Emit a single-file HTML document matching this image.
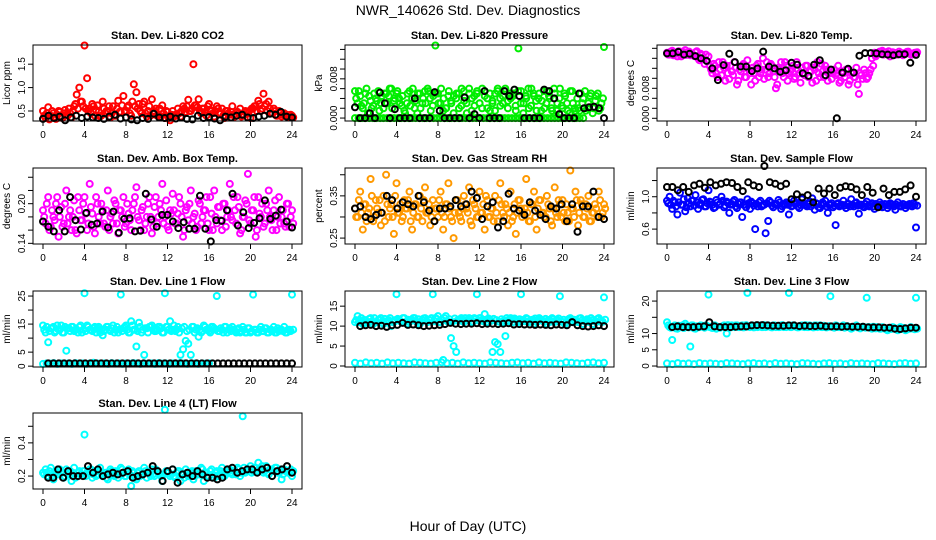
<!DOCTYPE html>
<html><head><meta charset="utf-8">
<style>
html,body{margin:0;padding:0;background:#fff;}
svg{display:block;font-family:"Liberation Sans",sans-serif;}
</style></head>
<body>
<svg id="chart" width="936" height="540" viewBox="0 0 936 540">
<text x="468" y="15" text-anchor="middle" font-size="14">NWR_140626  Std. Dev. Diagnostics</text>
<text x="468" y="531" text-anchor="middle" font-size="14">Hour of Day (UTC)</text>
</svg>
<script>
const xTicks=[0,4,8,12,16,20,24];
const co2Red=[.5,.35,.58,.4,.45,.33,.5,.38,.45,.42,.55,.36,.6,.85,1.0,.7,1.9,1.2,.55,.65,.4,.62,.38,.7,.45,.5,.36,.6,.4,.72,.48,.82,.5,.62,.4,1.07,.9,.65,.45,.7,.38,.6,.75,.5,.4,.55,.62,.35,.48,.3,.5,.42,.55,.38,.6,.48,.74,.5,1.5,.62,.75,.45,.55,.4,.65,.5,.38,.6,.45,.55,.35,.5,.42,.6,.38,.48,.55,.4,.5,.45,.35,.55,.6,.72,.5,.87,.65,.7,.45,.55,.4,.5,.38,.45,.42,.38,.4];
const co2Red2=[.4,.45,.32,.5,.38,.42,.48,.35,.52,.4,.45,.5,.65,.55,.7,.6,.55,.5,.45,.6,.52,.48,.4,.55,.5,.6,.45,.4,.55,.48,.62,.5,.58,.45,.7,.6,.55,.5,.65,.45,.5,.4,.48,.55,.42,.38,.45,.5,.35,.42,.38,.4,.45,.5,.55,.6,.5,.55,.62,.58,.5,.55,.48,.6,.52,.45,.5,.55,.45,.4,.5,.45,.48,.42,.4,.45,.38,.42,.48,.5,.55,.6,.5,.65,.55,.6,.5,.55,.45,.5,.4,.45,.42,.4,.38,.42,.36];
const co2Black=[.33,.4,.35,.38,.3,.36,.4,.35,.38,.36,.35,.33,.38,.42,.34,.36,.32,.3,.35,.33,.44,.36,.35,.38,.34,.36,.33,.32,.4,.35,.37,.34,.3,.38,.36,.4,.42,.36,.35,.38,.4,.44,.42,.48,.38,.36];
const presGreen=[5.5,3,4.5,2,5,1,3.5,2.5,4,5.5,3,2,5,4.5,6,3.5,5,4,2.5,1.5,3,5.5,4,2,1,5,3,5.5,6,4,2.5,14.8,5,3,1.5,2,4.5,3.5,1,4,5,2.5,5.5,3,6,1.5,4.5,5,3,2,5.5,4,1.5,3,5,6,2.5,4.5,5.5,3.5,4,5,1.5,14.2,5.5,3,4,2,6,4.5,1.5,5,3.5,2,5.5,4,1.5,5,3,6,2,4.5,1.5,5.5,3,1.5,2,5,4,1.5,3,5,2,4.5,1.5,3,14.5];
const presGreen2=[4,5.5,2.5,3,6,4.5,2,5,3.5,1.5,4.5,5,3,6,2,4,5.5,3,4.5,1,5,2.5,6,3.5,5,2,4,3,5.5,1.5,4.5,5,3,6,4,2,5.5,3,4.5,5,2,6,3.5,1,5,4,2.5,5.5,3,6,4.5,2,5,3.5,1.5,5.5,4,3,6,2,5,4.5,2.5,5.5,3,1,4.5,6,2.5,5,3.5,4,1.5,5.5,3,4.5,2,6,1.5,4,2.5,5,3,1,5.5,2,4,1.5,3,5.5,2,4.5,1,3.5,5,2,4];
const presGreenZero=[0,0,0,0,0,0,0,0,0,0,0,0,0,0,0,0,0,0,0,0,0,0,0,0,0,0,0,0,0,0,0,0,0,0,0,0,0,0,0,0,0,0,0,0,0,0,0,0,0,0,0,0,0,0,0,0,0,0,0,0,0,0,0,0,0];
const presBlack=[2.2,0,0,1,0,5.2,3,0,1.8,0,0,0,4,0,0,0,5.3,1.5,0,0,0,0,4.2,0,0.8,0,5.5,0,0,0,5.5,4.5,5.8,4.5,0,0,0,0,5.8,5.5,4,0.8,0,0,0,5,2,2.2,2.3,2,0];
const tempMag=[17.5,17,18,17.5,16.5,17.8,17,18.2,17.5,16.8,17,17.6,16,17.2,15.8,17,16.5,13,14.5,12,15,11.5,13.5,14,10.5,12.5,15,9,13,14,11,15.5,12,13.5,10,14.5,12,16,13,11,14.5,12.5,8,13.5,15,11,14,12,13,10.5,15,12,13.5,11.5,14,12.5,9.5,13,15,11,12.5,14,10,13,12,11.5,14,10,12,13,9,12,11,13.5,6.5,11.5,13,10.5,12,16,17.5,17,17.8,18,17.5,17.2,16.5,17.6,17.4,17,17.3,16.8,17.5,17.8,17,17.2,17.5];
const tempMag2=[17,17.8,16.8,17.3,17.9,16.5,17.6,16.9,17.8,17.2,16.6,17.9,15.5,16.8,14.5,15.2,14,12,14,11,13,15,10,12,14,11.5,13.5,10,12.5,14.5,11,13,9,12,14,11,13,10.5,15,12,14,11,9,13,12,15,10,12.5,14,11,13,9.5,12,14,11,12.5,13.5,10,12,14.5,11,13,12,10.5,13,12,9.5,12.5,11,13,10,12,11,9,12,10.5,12,11,13,14,16.5,17.3,17.8,17,17.6,17.9,17.2,17.5,17,17.8,17.4,17.1,17.7,17.3,17,17.5,17.6];
const tempBlack=[17.3,17.3,17.7,17,17.2,16.6,16,15.3,13.3,10.2,14.2,17.2,15,13.8,13.8,12.6,13.3,17.8,13.8,13.3,12.4,12.8,14.8,14.3,12,11.3,14.3,15.5,11.5,13,0,12.2,13.2,12.2,16.7,17.4,17.4,17.3,17.1,17,16.8,17.1,17.1,14.8,16.9];
const boxMag=[19,17,21,16.5,18,20,15,19.5,17,22,18,16,20.5,15.5,19,17.5,21,16,23,18.5,15.5,20,17,19,16.5,22,18,17,20,15.5,19,21,17,18.5,16,20,22.5,17.5,19,16,18,21,15.5,19.5,17,20,23,18,16.5,19,21.5,17,18.5,20,15,19,17.5,22,18,16,20.5,17,19,21,16,18.5,22,17,19.5,16,20,18,23,17.5,19,21,15.5,18,20.5,24.5,17,19,15,21,18,16.5,20,22,17.5,19,16,21,18,17,20,16.5,19];
const boxMag2=[18,20,16,19,17.5,21,18,16.5,20,17,19,18,16,21,17.5,20,18.5,17,19.5,16.5,21,18,20,17,19,16,18.5,20.5,17,19,18,16.5,20,17.5,19,21,18,16,19.5,17,20,18,16.5,21,18,19,17,20.5,16,18.5,19,17,21,18,16,19.5,20,17,18.5,16.5,20,18,19,17,21,16,18,19.5,17.5,20,16.5,19,18,21,17,19.5,16,18,20,17.5,19,21,16,18.5,20,17,19,18,16,20.5,18,17,19,16.5,20,18,17];
const boxBlack=[17.3,16.5,15.8,19,15.8,21,17.5,16.1,18.6,16.8,17,18.8,16.4,18.8,15.6,17.7,17.8,15.8,15.9,21.5,17.6,16.5,18.3,18.3,17.3,16.3,17.2,16.2,16.2,21.2,16.2,14.3,17.5,17.4,19,21.5,16.7,18.7,16.3,17.1,17.8,20.5,17.7,18.2,19.1,17.3,16.4];
const rhOrange=[32,30,36,27,33,31,39,29,34,31,28,35,40,30,33,26,38,31,29,34,32,36,27,33,30,35,29,37,31,28,34,32,30,36,27,33,38,30,25,34,31,29,35,32,37,28,33,30,36,31,27,34,30,32,35,29,38,31,33,28,36,30,26,34,32,31,39,29,33,36,27,34,31,30,35,32,28,37,30,33,34,29,31,41,32,36,28,34,30,33,35,29,31,32,36,30,33];
const rhOrange2=[30,34,31,33,29,32,35,30,32,34,31,29,33,32,30,35,31,33,30,32,34,29,31,33,30,32,34,31,33,30,29,32,34,31,30,33,32,29,31,34,30,32,33,31,29,34,32,30,31,33,35,30,32,29,31,34,33,30,32,31,29,33,31,34,30,32,31,29,33,30,32,34,31,30,33,29,32,31,34,30,31,33,29,32,30,34,31,33,30,32,29,31,33,30,34,31,32];
const rhBlack=[32,32.5,30,29.5,30.5,31,35,34,32,33.5,33,32.5,35,33.5,31.5,29,32,32,32.5,34,32.5,33,36,34.5,29.5,32.5,33.5,27.5,29,35.5,32,31.5,30.5,33.5,31.5,30.5,29.5,32.5,32,33,29,33,26.5,32.5,32.5,36,30,29.5];
const flowBlue=[.95,1.0,.85,.93,.78,1.05,.9,.82,.98,.88,.95,1.02,.85,.92,.97,.88,1.08,.93,.86,.96,.9,1.0,.87,.94,.8,.91,.96,.86,.93,.75,.9,.97,.85,.92,.6,.88,.95,.9,.55,.7,.93,.87,.91,.96,.85,.9,.93,.78,.88,.95,.92,.86,.97,.9,.88,.94,.98,.84,.91,.86,.93,.95,.8,.9,.87,.65,.92,.89,.95,.86,.91,.97,.88,.93,.79,.9,.87,.94,.88,.92,.85,.9,.93,.87,.91,.86,.92,.9,.84,.93,.88,.91,.86,.9,.89,.92,.62];
const flowBlue2=[.92,.9,.95,.88,.93,.9,.97,.87,.92,.95,.89,.93,.9,.96,.88,.92,.94,.9,.87,.93,.91,.95,.89,.92,.9,.94,.88,.91,.93,.9,.87,.92,.94,.89,.91,.93,.88,.9,.92,.95,.89,.91,.9,.93,.88,.91,.9,.92,.89,.91,.88,.9,.92,.89,.91,.88,.9,.92,.87,.9,.91,.88,.9,.92,.89,.91,.88,.9,.89,.91,.88,.9,.92,.89,.9,.88,.91,.89,.9,.88,.91,.89,.9,.88,.9,.89,.91,.88,.9,.89,.88,.9,.89,.91,.88,.9,.89];
const flowBlack=[1.12,1.12,1.08,1.12,1.06,1.14,1.16,1.11,1.18,1.14,1.16,1.18,1.17,1.12,1.07,1.18,1.14,1.12,1.38,1.18,1.16,1.13,1.16,.97,1.03,.99,1.02,.93,1.1,1.04,1.1,1.02,1.11,1.13,1.12,1.09,1.02,1.12,1.05,.87,1.1,1.02,1.06,1.06,1.09,1.14,1.0];
const line1Cyan=[14.5,12,8.5,13.5,14,12.5,13,14.5,12,5.5,13.5,14,12.5,13,14,12,26,14.5,13,12.5,14,13.5,12,11,13,14,12.5,14.5,13,12,25.5,13.5,14.5,12,16,13,7,15.5,12,4,13.5,14,14.5,12.5,13,14,12,26,14,16,13,12.5,14,4,6,9,8,4,14,13,10.5,12,14.5,13,12.5,14,13.5,25,12.5,13,14,12,13.5,14,12.5,13,12,14,12,13.5,12,25.5,13,12,14,12.5,13.5,12,13,14,12,12.5,13,14,12,13,25.5];
const line1Cyan2=[13,14,12.5,13.5,12,14.5,13,12,14,13.5,12.5,14,13,12,14.5,13,12.5,14,13,13.5,12,14,13,12.5,14,13,13.5,12,14,13,12.5,14,13,12,14.5,13,12.5,14,13,13.5,12,14,13,12.5,14,13.5,12,14,13,12.5,14.5,13,12,13.5,14,12.5,13,14,12,13.5,13,12.5,14,13,12,14,13,12.5,13.5,12,14,13,12.5,13,12,13.5,12.5,13,12,13.5,12.5,13,12,13,12.5,13.5,12,13,12.5,12,13.5,13,12.5,12,13,12.5,13];
const line1CyanLow=[.8,1,.9,1.1,.8,1,.9,1,.8,1.1,.9,1,.8,1,1.2,1,.9,1,.8,1.1,.9,1,.8,1,.9,1.1,1,.8,1,.9,1,.8,1.1,.9,1,.8,1,.9,1.1,1,.8,.9,1,.8,1,.9,1];
const line1Black=[1,1,1,1,1,1,1,1,1,1,1,1,1,1,1,1,1,1,1,1,1,1,1,1,1,1,1,1,1,1,1,1,1,1,1,1,1,1,1,1,1,1,1,1,1,1,1];
const line2Cyan=[11,12.5,11,10.5,11.5,11,12,10.5,11,11.5,12,10.5,11,11.5,10,11,18,11.5,11,12,10.5,11,11.5,12,11,10.5,11.5,12,11,11.5,18,12,12.5,11,1.5,12.5,11,7,5,3.5,11.5,12,11,11.5,12,11,12,18,12,11.5,13,11,11.5,3.5,6,5.5,3.5,11,7.5,11.5,12,11,11.5,11,18,11.5,12,11,11.5,10.5,11,12,11.5,11,10.5,11.5,12,11,11.5,17.5,11,10.5,11.5,12,11,11.5,11,12,10.5,11,11.5,12,10.5,11,12,11,17.2];
const line2Cyan2=[11.5,11,12,11.5,10.8,11.8,11.2,12,11,11.6,10.9,11.8,11.3,12,11,11.5,11.8,11.2,12,11,11.6,11.4,12,11.2,11.7,11,11.9,11.3,11.6,12,11.2,11.8,11,11.6,12,11.3,11.7,11,11.9,11.4,11.6,11.2,12,11.5,11.8,11.1,11.7,11.4,12,11.2,11.6,11.9,11.3,11.8,11.5,11.1,11.7,11.4,12,11.2,11.6,11.9,11.3,11.7,11.5,11.2,11.8,11.4,11.6,11.9,11.2,11.7,11.3,11.8,11.5,11.1,11.7,11.4,11.9,11.2,11.6,11,11.8,11.3,11.6,11.1,11.9,11.4,11.2,11.7,11,11.5,11.2,11.8,11.4,11.1,11.6];
const line2CyanLow=[.8,.6,.9,.7,.8,.6,.9,.7,.8,.7,.6,.9,.8,.7,.6,.8,.9,.7,.8,.6,.9,.7,.8,.7,.6,.9,.8,.7,.6,.8,.9,.7,.8,.6,.9,.7,.8,.7,.6,.9,.8,.7,.6,.8,.9,.7,.8];
const line2Black=[10,10.2,10.3,10,10.1,9.8,10.2,10.3,10.8,10.3,10.4,10.2,10,10.1,10.2,10.3,10.5,10.8,10.6,10.5,10.6,10.6,10.7,10.5,10.6,10.6,10.5,10.6,10.7,10.4,10.5,10.4,10.4,10.3,10.4,10.3,10.2,10.4,10.3,10.2,11,10.2,10,9.9,10,10.2,10];
const line3Cyan=[13.5,12,8,12.5,11.5,12,12.5,13,12,6,12.5,11.5,12,12.5,12,12.5,22,12,12.5,11.5,12,12,12.5,10,12,12.5,12,12.5,12,12.5,12,22.5,12,12.5,12,12,12.5,12,12,12.5,12,12.5,12,12,12.5,12,12,22.5,12,12.5,12,12,12.5,12,12,12.5,12,12.5,12,12.5,12,12,12,21.5,12,12.5,12,12,12.5,12,12,11.5,12,12.5,12,12,12,21,12,11.5,12,12,11.5,12,11.5,11,11.5,12,11.5,11,12,11.5,11,11.5,12,11.5,21];
const line3Cyan2=[12.5,11.8,12.2,11.6,12.4,12,11.7,12.3,11.9,12.5,11.6,12.2,12,12.4,11.8,12.3,12,11.7,12.5,12.1,11.8,12.3,12,12.6,11.9,12.2,12.5,12,12.3,11.9,12.6,12.1,12.4,11.9,12.5,12.2,12,12.6,12.1,12.3,11.9,12.5,12.2,12,12.6,12.1,12.4,12,12.5,12.2,11.9,12.4,12.1,12.6,12,12.3,11.9,12.5,12.2,12,12.4,11.9,12.3,12.1,11.8,12.4,12,12.2,11.8,12.3,12,11.7,12.2,11.9,11.6,12.1,11.8,12,11.7,12.1,11.6,11.9,11.5,11.8,11.3,11.7,11.4,11.8,11.2,11.6,11.4,11.7,11.2,11.5,11.6,11.3,11.5];
const line3CyanLow=[.8,.6,.9,.7,.8,.6,.9,.7,.8,.7,.6,.9,.8,.7,.6,.8,.9,.7,.8,.6,.9,.7,.8,.7,.6,.9,.8,.7,.6,.8,.9,.7,.8,.6,.9,.7,.8,.7,.6,.9,.8,.7,.6,.8,.9,.7,.8];
const line3Black=[12,12.2,12,12,12,12.1,12.2,13.5,12.2,12,12,12,12.1,12.2,12.2,12.5,12.6,12.6,12.5,12.4,12.4,12.4,12.5,12.5,12.3,12.4,12.3,12.3,12.4,12.2,12.2,12.2,12.1,12.2,12.1,12.1,12.1,11.9,11.9,11.9,11.8,11.8,11.5,11.4,11.6,11.8,11.8];
const line4Cyan=[22,24,20,25,18,22,21,23,19,24,22,17,25,20,23,21,45,22,24,19,23,21,25,20,22,18,24,21,23,19,25,22,20,24,14,22,18,23,21,25,19,22,24,20,23,21,17,60,22,20,24,19,23,17,21,24,20,22,18,23,21,25,17,22,20,24,19,23,21,25,20,22,24,21,23,25,20,56,22,24,26,23,25,28,24,22,26,21,24,23,25,22,18,24,23,22,20];
const line4Cyan2=[21,22,23,20,22,21,24,22,20,21,23,22,19,22,21,23,20,22,24,21,20,23,22,21,19,22,23,20,22,21,24,20,22,21,23,19,22,20,21,23,22,20,21,24,22,20,21,23,22,21,20,22,23,21,19,22,21,23,20,22,21,24,22,20,23,21,22,20,23,22,21,24,22,23,21,24,22,25,23,24,22,25,23,24,26,23,22,24,23,25,22,24,21,23,22,24,23];
const line4Black=[19,19,24,19,23,20,20,20,26,22,24,20,21,22,21,22,23,19,20,21,22,26,23,17,23,24,16,21,22,20,23,21,19,19,18,19,24,25,22,23,24,24,22,24,25,20,23,24,26,22];

const NS='http://www.w3.org/2000/svg';
const svg=document.getElementById('chart');
const colX=[33,345,657], rowY=[45,168,291,413], W=269, H=76;
function mk(tag,attrs,parent){const e=document.createElementNS(NS,tag);for(const k in attrs)e.setAttribute(k,attrs[k]);(parent||svg).appendChild(e);return e;}
const k3=0.008/3;
const panels=[
 {id:'co2',c:0,r:0,title:'Stan. Dev. Li-820 CO2',ylab:'Licor ppm',ymin:.286,ymax:1.91,ticks:[.5,1,1.5],labels:[[.5,'0.5'],[1,'1.0'],[1.5,'1.5']],series:[[co2Red,1,'#ff0000'],[co2Red2,1,'#ff0000',0.12,24.12],[co2Black,1,'#000']]},
 {id:'pressure',c:1,r:0,title:'Stan. Dev. Li-820 Pressure',ylab:'kPa',ymin:-.0006,ymax:.0149,ticks:[0,.002,.004,.006,.008,.01,.012,.014],labels:[[0,'0.000'],[.008,'0.008']],series:[[presGreenZero,1,'#00ee00',0,22],[presGreen,.001,'#00ee00'],[presGreen2,.001,'#00ee00',0.12,23.9],[presBlack,.001,'#000']]},
 {id:'temp',c:2,r:0,title:'Stan. Dev. Li-820 Temp.',ylab:'degrees C',ymin:-.00072,ymax:.01955,ticks:[0,k3,2*k3,3*k3,4*k3,5*k3,6*k3,7*k3],labels:[[0,'0.000'],[.008,'0.008']],series:[[tempMag,.001,'#ff00ff'],[tempMag2,.001,'#ff00ff',0.12,24.12],[tempBlack,.001,'#000']]},
 {id:'ambbox',c:0,r:1,title:'Stan. Dev. Amb. Box Temp.',ylab:'degrees C',ymin:.139,ymax:.254,ticks:[.14,.16,.18,.2,.22,.24],labels:[[.14,'0.14'],[.2,'0.20']],series:[[boxMag,.01,'#ff00ff'],[boxMag2,.01,'#ff00ff',0.12,24.12],[boxBlack,.01,'#000']]},
 {id:'rh',c:1,r:1,title:'Stan. Dev. Gas Stream RH',ylab:'percent',ymin:.236,ymax:.416,ticks:[.25,.3,.35,.4],labels:[[.25,'0.25'],[.35,'0.35']],series:[[rhOrange,.01,'#ff9900'],[rhOrange2,.01,'#ff9900',0.12,24.12],[rhBlack,.01,'#000']]},
 {id:'sampleflow',c:2,r:1,title:'Stan. Dev. Sample Flow',ylab:'ml/min',ymin:.416,ymax:1.355,ticks:[.6,.8,1,1.2],labels:[[.6,'0.6'],[1,'1.0']],series:[[flowBlue,1,'#0000ff'],[flowBlue2,1,'#0000ff',0.12,24.12],[flowBlack,1,'#000']]},
 {id:'line1',c:0,r:2,title:'Stan. Dev. Line 1 Flow',ylab:'ml/min',ymin:-.3,ymax:26.8,ticks:[0,5,10,15,20,25],labels:[[0,'0'],[5,'5'],[15,'15'],[25,'25']],series:[[line1Cyan,1,'#00ffff'],[line1Cyan2,1,'#00ffff',0.12,24.12],[line1CyanLow,1,'#00ffff',0,16],[line1Black,1,'#000',0.5,24]]},
 {id:'line2',c:1,r:2,title:'Stan. Dev. Line 2 Flow',ylab:'ml/min',ymin:-.25,ymax:18.8,ticks:[0,5,10,15],labels:[[0,'0'],[5,'5'],[10,'10'],[15,'15']],series:[[line2Cyan,1,'#00ffff'],[line2Cyan2,1,'#00ffff',0.12,24.12],[line2CyanLow,1,'#00ffff',0,24],[line2Black,1,'#000',0.5,24]]},
 {id:'line3',c:2,r:2,title:'Stan. Dev. Line 3 Flow',ylab:'ml/min',ymin:-.3,ymax:23.1,ticks:[0,5,10,15,20],labels:[[0,'0'],[5,'5'],[10,'10'],[20,'20']],series:[[line3Cyan,1,'#00ffff'],[line3Cyan2,1,'#00ffff',0.12,24.12],[line3CyanLow,1,'#00ffff',0,24],[line3Black,1,'#000',0.5,24]]},
 {id:'line4',c:0,r:3,title:'Stan. Dev. Line 4 (LT) Flow',ylab:'ml/min',ymin:.122,ymax:.58,ticks:[.2,.3,.4,.5],labels:[[.2,'0.2'],[.4,'0.4']],series:[[line4Cyan,.01,'#00ffff'],[line4Cyan2,.01,'#00ffff',0.12,24.12],[line4Black,.01,'#000',0.5,24]]}
];
panels.forEach(p=>{
 const L=colX[p.c], T=rowY[p.r];
 const g=mk('g',{});
 
 
 const xs=h=>L+10+h*(W-20)/24;
 const ys=v=>T+H-(v-p.ymin)/(p.ymax-p.ymin)*H;
 const t=mk('text',{x:L+W/2,y:T-6,'text-anchor':'middle','font-size':'11','font-weight':'bold'},g);
 t.textContent=p.title;
 
 
 const cx=L-23, cy=T+H/2;
 const yl=mk('text',{x:cx,y:cy,'text-anchor':'middle','font-size':'10',transform:`rotate(-90 ${cx} ${cy})`},g);
 yl.textContent=p.ylab;
 
 
 const pts=mk('g',{},g);
 
 
 p.series.forEach(s=>{
  const arr=s[0],sc=s[1],col=s[2],x0=s.length>3?s[3]:0,x1=s.length>4?s[4]:24;
  arr.forEach((v,i)=>{
   const h=x0+i*(x1-x0)/(arr.length-1);
   const c=mk('circle',{cx:xs(h).toFixed(1),cy:ys(v*sc).toFixed(1),r:3,fill:'none',stroke:col,'stroke-width':'2'},pts);
   
   
  });
 });
 const fr=mk('rect',{x:L,y:T,width:W,height:H,fill:'none',stroke:'#000','stroke-width':'1'},g);
 
 
 const xa=mk('g',{},g);
 
 
 mk('line',{x1:xs(0),x2:xs(24),y1:T+H,y2:T+H,stroke:'#000'},xa);
 xTicks.forEach(h=>{
  mk('line',{x1:xs(h),x2:xs(h),y1:T+H,y2:T+H+5,stroke:'#000'},xa);
  const lt=mk('text',{x:xs(h),y:T+H+17,'text-anchor':'middle','font-size':'10'},xa);
  lt.textContent=h;
  
  
 });
 const ya=mk('g',{},g);
 
 
 mk('line',{x1:L,x2:L,y1:ys(p.ticks[0]),y2:ys(p.ticks[p.ticks.length-1]),stroke:'#000'},ya);
 p.ticks.forEach(v=>mk('line',{x1:L-5,x2:L,y1:ys(v),y2:ys(v),stroke:'#000'},ya));
 p.labels.forEach(([v,s])=>{
  const x=L-8,y=ys(v);
  const lt=mk('text',{x:x,y:y,'text-anchor':'middle','font-size':'10',transform:`rotate(-90 ${x} ${y})`},ya);
  lt.textContent=s;
  
  
 });
});
</script>
</body></html>
